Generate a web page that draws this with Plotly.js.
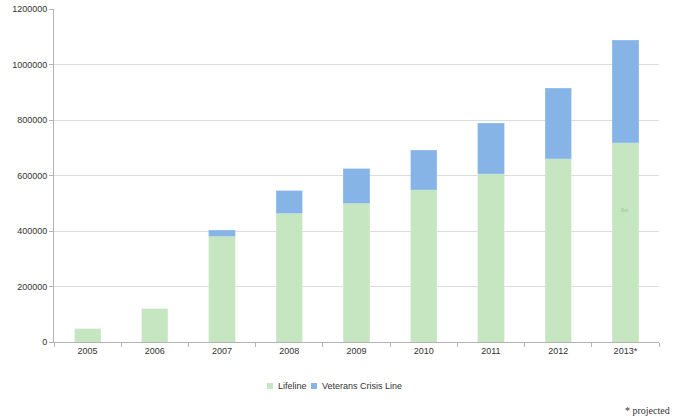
<!DOCTYPE html>
<html>
<head>
<meta charset="utf-8">
<script src="https://cdn.plot.ly/plotly-3.0.1.min.js"></script>
<style>html,body{margin:0;padding:0;background:#fff;}#chart{width:673px;height:419px;}</style>
</head>
<body>
<div id="chart"></div>
<script>
const years = ["2005", "2006", "2007", "2008", "2009", "2010", "2011", "2012", "2013*"];
const lifeline = [47000, 119000, 381000, 464000, 500000, 549000, 607000, 661000, 718000];
const veterans = [null, null, 21000, 81000, 125000, 142000, 182000, 253000, 370000];
const yTicks = [0, 200000, 400000, 600000, 800000, 1000000, 1200000];
const seriesNames = ["Lifeline", "Veterans Crisis Line"];
const seriesColors = ["#c6e6c2", "#86b4e6"];

const traces = [
  {type: "bar", name: seriesNames[0], x: years, y: lifeline, marker: {color: seriesColors[0], line: {color: "#d8eed5", width: 0.5}}},
  {type: "bar", name: seriesNames[1], x: years, y: veterans, marker: {color: seriesColors[1], line: {color: "#a6c8ee", width: 0.5}}}
];

// custom compact legend (pixel -> paper conversion)
const L = 54, W = 605, B = 342, H = 333;
const px = v => (v - L) / W;
const py = v => (B - v) / H;
const legendItems = [
  {sq: 267, tx: 276},
  {sq: 311, tx: 320}
];
const shapes = legendItems.map((it, i) => ({
  type: "rect", xref: "paper", yref: "paper",
  x0: px(it.sq), x1: px(it.sq + 6), y0: py(389), y1: py(383),
  fillcolor: seriesColors[i], line: {width: 0}
}));
const legendAnn = legendItems.map((it, i) => ({
  text: seriesNames[i], xref: "paper", yref: "paper", x: px(it.tx), y: py(386),
  xanchor: "left", yanchor: "middle", showarrow: false,
  font: {size: 9, color: "#333333"}
}));

const layout = {
  width: 673, height: 419,
  margin: {l: 54, r: 14, t: 9, b: 77},
  barmode: "stack",
  bargap: 0.61,
  paper_bgcolor: "#ffffff",
  plot_bgcolor: "#ffffff",
  font: {family: "Liberation Sans, Arial, sans-serif", size: 9, color: "#333333"},
  showlegend: false,
  xaxis: {
    type: "category", tickson: "boundaries", ticks: "outside", ticklen: 4, tickcolor: "#b3b3b3",
    showline: true, linecolor: "#b3b3b3", linewidth: 1, showgrid: false,
    tickfont: {size: 9, color: "#333333"}, fixedrange: true
  },
  yaxis: {
    range: [0, 1200000], tickvals: yTicks, ticktext: yTicks.map(String),
    ticks: "outside", ticklen: 4, tickcolor: "#b3b3b3",
    showline: true, linecolor: "#b3b3b3", linewidth: 1,
    showgrid: true, gridcolor: "#dcdcdc", gridwidth: 1, zeroline: false,
    tickfont: {size: 9, color: "#333333"}, fixedrange: true
  },
  shapes: shapes,
  annotations: legendAnn.concat([
    {text: "* projected", xref: "paper", yref: "paper", x: px(672), y: py(410), xanchor: "right", yanchor: "middle",
     showarrow: false, font: {family: "Liberation Serif, serif", size: 10, color: "#333333"}},
    {text: "Ber", xref: "x", yref: "y", x: "2013*", y: 475000, showarrow: false,
     font: {size: 5, color: "#9ccc98"}}
  ])
};

Plotly.newPlot("chart", traces, layout, {displayModeBar: false, staticPlot: true});
</script>
</body>
</html>
